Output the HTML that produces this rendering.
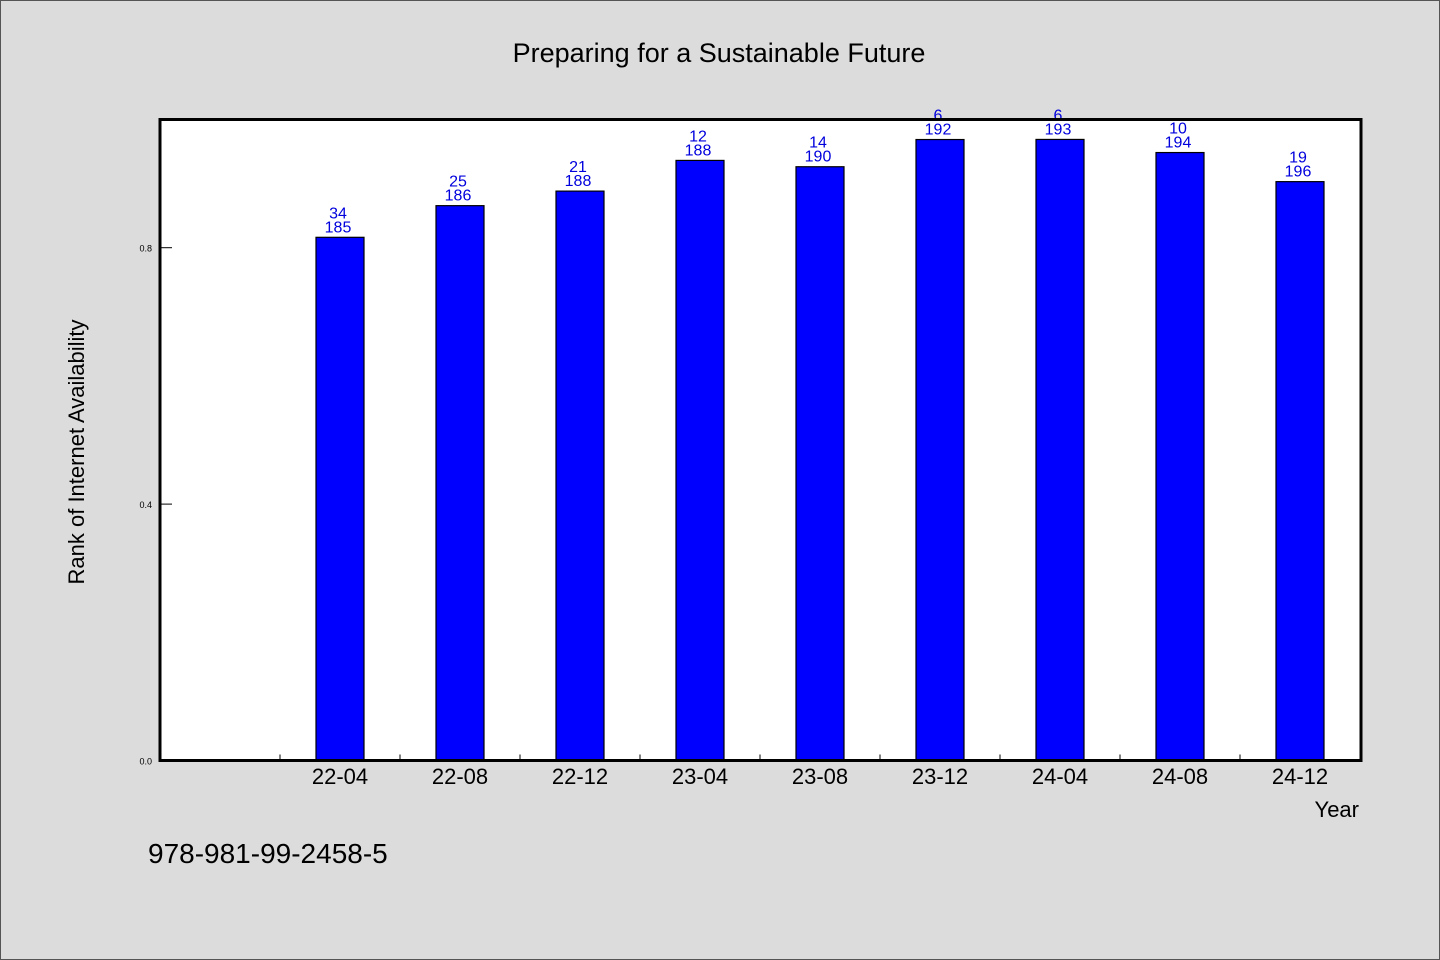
<!DOCTYPE html>
<html><head><meta charset="utf-8"><style>
html,body{margin:0;padding:0;background:#dcdcdc;}
svg{display:block;font-family:"WenQuanYi Zen Hei","Liberation Sans",sans-serif;}
</style></head><body>
<svg id="chart" width="1440" height="960">
<rect x="0.5" y="0.5" width="1439" height="959" fill="#dcdcdc" stroke="#555"/>
<text x="719" y="62" font-size="27" text-anchor="middle" fill="#000">Preparing for a Sustainable Future</text>
<rect x="160" y="119.5" width="1201" height="641" fill="#fff"/>
<g id="bars"></g>
<g id="axes"></g>
<rect x="160" y="119.5" width="1201" height="641" fill="none" stroke="#000" stroke-width="3"/>
<text transform="translate(84,452) rotate(-90)" font-size="22" text-anchor="middle" fill="#000">Rank of Internet Availability</text>
<text x="1359" y="817" font-size="22" text-anchor="end" fill="#000">Year</text>
<text x="148" y="863" font-size="28" fill="#000">978-981-99-2458-5</text>
</svg>
<script>
const categories = ["22-04","22-08","22-12","23-04","23-08","23-12","24-04","24-08","24-12"];
const ranks = [34,25,21,12,14,6,6,10,19];
const totals = [185,186,188,188,190,192,193,194,196];
const yTicks = [0.0,0.4,0.8];
const NS="http://www.w3.org/2000/svg";
const x0=160, slot=120, yBase=760.5, yTop=119.5;
function xCenter(i){return x0+slot*(i+1)+slot/2;}
function yScale(v){return yBase-(yBase-yTop)*v;}
function mk(tag,attrs,parent){const e=document.createElementNS(NS,tag);for(const k in attrs)e.setAttribute(k,attrs[k]);parent.appendChild(e);return e;}
const bars=document.getElementById('bars'), axes=document.getElementById('axes');
categories.forEach((c,i)=>{
  const v=1-ranks[i]/totals[i];
  const cx=xCenter(i), y=yScale(v);
  const r=mk('rect',{x:cx-24,y:y,width:48,height:yBase-y,fill:'#0000ff',stroke:'#000','stroke-width':1.2},bars);
  
  
  const t1=mk('text',{x:cx-2,y:y-19,'font-size':16,'text-anchor':'middle',fill:'#0000dd'},bars);
  t1.textContent=ranks[i];
  
  
  const t2=mk('text',{x:cx-2,y:y-5,'font-size':16,'text-anchor':'middle',fill:'#0000dd'},bars);
  t2.textContent=totals[i];
  
  
  const xl=mk('text',{x:cx,y:784,'font-size':22,'text-anchor':'middle',fill:'#000'},axes);
  xl.textContent=c;
  
  
  const tk=mk('line',{x1:cx-60,x2:cx-60,y1:yBase,y2:yBase-6,stroke:'#000','stroke-width':1},axes);
  
  
});
yTicks.forEach(v=>{
  const y=yScale(v);
  const l=mk('line',{x1:160,x2:172,y1:y,y2:y,stroke:'#000','stroke-width':1},axes);
  
  
  const t=mk('text',{x:152,y:y+4,'font-size':9,'text-anchor':'end',fill:'#000'},axes);
  t.textContent=v.toFixed(1);
  
  
});
</script>
</body></html>
